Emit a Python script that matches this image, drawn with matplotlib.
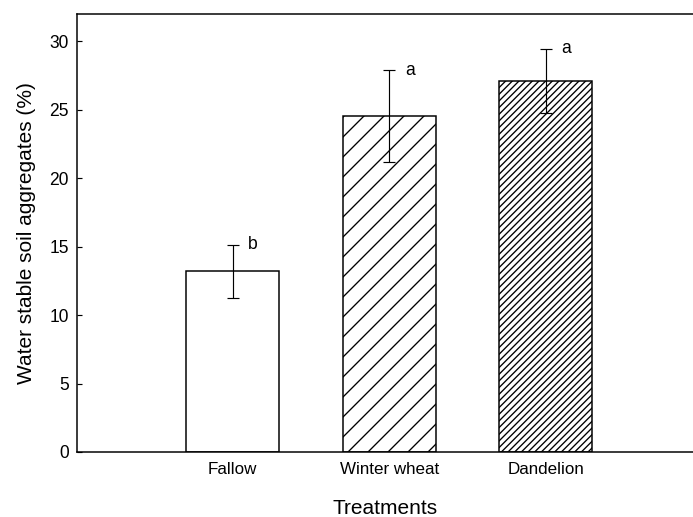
import matplotlib
matplotlib.use("Agg")
import matplotlib.pyplot as plt
import numpy as np

plt.rcParams['font.family'] = ['Liberation Sans', 'DejaVu Sans']
plt.rcParams['hatch.linewidth'] = 0.8

treatments = ['Fallow', 'Winter wheat', 'Dandelion']
means = [13.2, 24.55, 27.13]
errors = [1.95, 3.35, 2.33]
letters = ['b', 'a', 'a']
hatches = ['', '//', '//////']

fig = plt.figure(figsize=(693 / 120, 517 / 120), dpi=120)
ax = fig.add_axes([77 / 693, 1 - 452 / 517, 1 - 77 / 693, (452 - 14) / 517])

x = np.arange(len(treatments))
ax.bar(x, means, width=0.594, color='white', edgecolor='black',
       linewidth=0.9, hatch=hatches, zorder=2)
ax.errorbar(x, means, yerr=errors, fmt='none', ecolor='black',
            elinewidth=0.7, capsize=3.5, capthick=0.7, zorder=3)

# significance letters next to the error-bar caps
for xi, m, e, lab in zip(x, means, errors, letters):
    ax.text(xi + 0.1, m + e, lab, ha='left', va='center', fontsize=10.5)

ax.set_xlim(-0.994, 2.94)
ax.set_ylim(0, 32)
ax.set_yticks(range(0, 31, 5))
ax.set_xticks(x)
ax.set_xticklabels(treatments, fontsize=10.2)
ax.tick_params(axis='y', direction='in', length=3, width=0.7, labelsize=10.5, pad=5)
ax.tick_params(axis='x', length=0, pad=6)

for side in ['left', 'top', 'bottom']:
    ax.spines[side].set_linewidth(0.9)
ax.spines['right'].set_visible(False)

ax.set_ylabel('Water stable soil aggregates (%)', fontsize=12.5, labelpad=8)
ax.set_xlabel('Treatments', fontsize=12.5, labelpad=13)

fig.savefig('out.png', dpi=120)
